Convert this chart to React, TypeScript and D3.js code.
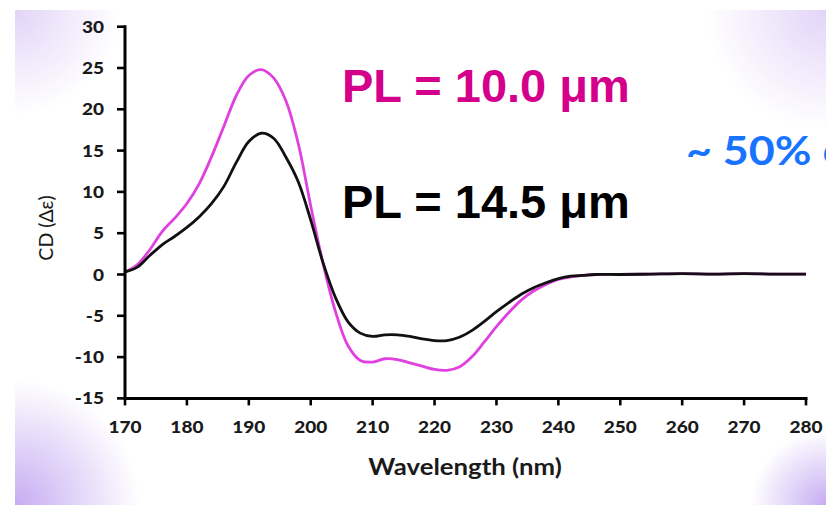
import React from "react";
import * as d3 from "d3";

// wavelength (nm)
const wavelengths = [
  170, 172, 174, 176, 178, 180, 182, 184, 186, 188, 190, 192, 194, 196, 198, 200,
  202, 204, 206, 208, 210, 212, 214, 216, 218, 220, 222, 224, 226, 228, 230, 232,
  234, 236, 238, 240, 242, 244, 246, 250, 255, 260, 265, 270, 275, 280,
];

// CD (Δε), PL = 10.0 µm
const pl100 = [
  0.3, 1.2, 3.0, 5.2, 6.8, 8.6, 11.0, 14.3, 18.0, 21.7, 24.1, 24.8, 23.8, 21.0, 15.8, 8.3,
  1.3, -4.5, -8.6, -10.4, -10.6, -10.2, -10.3, -10.7, -11.1, -11.5, -11.6, -11.2, -10.0, -8.2, -6.3, -4.6,
  -3.1, -2.0, -1.2, -0.6, -0.3, -0.1, 0, 0, 0.05, 0.1, 0.05, 0.1, 0.05, 0.05,
];

// CD (Δε), PL = 14.5 µm
const pl145 = [
  0.3, 0.9, 2.3, 3.6, 4.6, 5.7, 7.0, 8.6, 10.7, 13.6, 16.1, 17.1, 16.5, 14.2, 11.2, 6.6,
  1.4, -2.8, -5.7, -7.1, -7.5, -7.3, -7.3, -7.5, -7.8, -8.0, -8.0, -7.6, -6.8, -5.7, -4.5, -3.4,
  -2.4, -1.6, -1.0, -0.5, -0.2, -0.1, 0, 0, 0.05, 0.1, 0.05, 0.1, 0.05, 0.05,
];

const xTicks = [170, 180, 190, 200, 210, 220, 230, 240, 250, 260, 270, 280];
const yTicks = [-15, -10, -5, 0, 5, 10, 15, 20, 25, 30];

const W = 826;
const H = 505;
const tickFont = "Lato, 'Open Sans', sans-serif";
const armFont = "'Liberation Sans', Arial, sans-serif";

export default function App() {
  const x = d3.scaleLinear().domain([170, 280]).range([125, 806]);
  const y = d3.scaleLinear().domain([-15, 30]).range([398.4, 26.7]);

  const line = d3
    .line<number>()
    .x((_, i) => x(wavelengths[i]))
    .y((d) => y(d))
    .curve(d3.curveCatmullRom.alpha(0.5));

  const corners = [
    { id: "tl", cx: 15, cy: 10, r: 105, c: "#d9c6f6", o: 0.75 },
    { id: "tr", cx: 826, cy: 10, r: 120, c: "#d9c6f6", o: 0.75 },
    { id: "bl", cx: 15, cy: 505, r: 125, c: "#c6acf2", o: 1 },
    { id: "br", cx: 826, cy: 505, r: 75, c: "#c6acf2", o: 1 },
  ];

  return (
    <svg width={W} height={H} style={{ position: "absolute", left: 0, top: 0 }}>
      <defs>
        {corners.map((k) => (
          <radialGradient key={k.id} id={"g" + k.id} gradientUnits="userSpaceOnUse" cx={k.cx} cy={k.cy} r={k.r}>
            <stop offset="0" stopColor={k.c} stopOpacity={k.o} />
            <stop offset="1" stopColor={k.c} stopOpacity={0} />
          </radialGradient>
        ))}
      </defs>
      <rect x={0} y={0} width={W} height={H} fill="#fff" />
      {corners.map((k) => (
        <rect key={k.id} x={15} y={10} width={W - 15} height={H - 10} fill={`url(#g${k.id})`} />
      ))}

      {/* curves */}
      <path d={line(pl100) || ""} fill="none" stroke="#e040e0" strokeWidth={2.8} />
      <path d={line(pl145) || ""} fill="none" stroke="#111" strokeWidth={2.8} />

      {/* y axis */}
      <line x1={125} x2={125} y1={y(30) - 1.5} y2={y(-15) + 1.5} stroke="#000" strokeWidth={3} />
      {yTicks.map((t) => (
        <g key={t}>
          <line x1={117} x2={125} y1={y(t)} y2={y(t)} stroke="#000" strokeWidth={2.6} />
          <text
            transform={`translate(104,${y(t) + 6}) scale(1.12,1)`}
            textAnchor="end"
            fontFamily={tickFont}
            fontWeight={900}
            fontSize={17}
            fill="#1a1a1a"
          >
            {t}
          </text>
        </g>
      ))}

      {/* x axis */}
      <line x1={124} x2={x(280) + 1.5} y1={y(-15)} y2={y(-15)} stroke="#000" strokeWidth={3} />
      {xTicks.map((t) => (
        <g key={t}>
          <line x1={x(t)} x2={x(t)} y1={y(-15)} y2={y(-15) + 7} stroke="#000" strokeWidth={2.6} />
          <text
            transform={`translate(${x(t)},433) scale(1.12,1)`}
            textAnchor="middle"
            fontFamily={tickFont}
            fontWeight={900}
            fontSize={17}
            fill="#1a1a1a"
          >
            {t}
          </text>
        </g>
      ))}

      {/* axis titles */}
      <text
        transform="translate(465,475) scale(1.12,1)"
        textAnchor="middle"
        fontFamily={tickFont}
        fontWeight={700}
        fontSize={23}
        fill="#1a1a1a"
      >
        Wavelength (nm)
      </text>
      <text
        transform="translate(53,228) rotate(-90)"
        textAnchor="middle"
        fontFamily={tickFont}
        fontSize={19.5}
        fill="#1a1a1a"
      >
        CD (Δε)
      </text>

      {/* labels */}
      <text x={342} y={102} fontFamily={armFont} fontWeight={700} fontSize={47} fill="#d4008c">
        PL = 10.0 μm
      </text>
      <text x={342} y={218} fontFamily={armFont} fontWeight={700} fontSize={47} fill="#000">
        PL = 14.5 μm
      </text>
      <text
        transform="translate(686,165) scale(1.12,1)"
        fontFamily={tickFont}
        fontWeight={700}
        fontSize={40}
        fill="#1874ff"
      >
        ~ 50% c
      </text>
    </svg>
  );
}
